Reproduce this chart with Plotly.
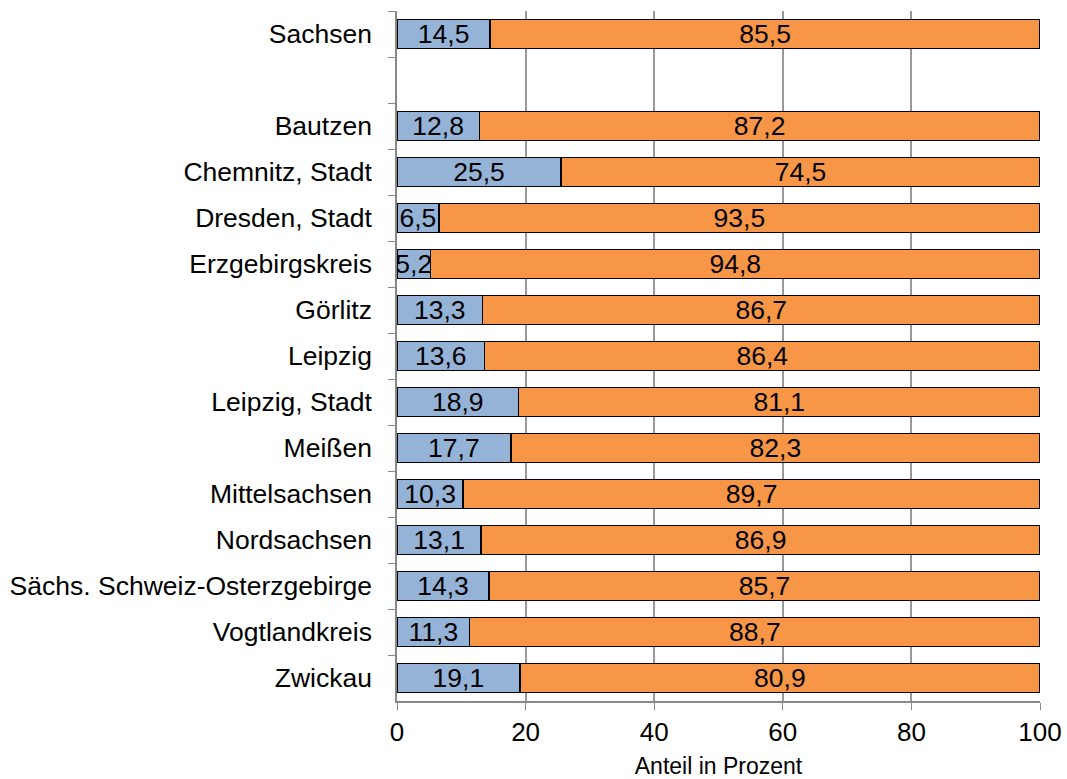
import plotly.graph_objects as go

categories = ["Sachsen", " ", "Bautzen", "Chemnitz, Stadt", "Dresden, Stadt", "Erzgebirgskreis",
              "Görlitz", "Leipzig", "Leipzig, Stadt", "Meißen", "Mittelsachsen", "Nordsachsen",
              "Sächs. Schweiz-Osterzgebirge", "Vogtlandkreis", "Zwickau"]
share_a = [14.5, None, 12.8, 25.5, 6.5, 5.2, 13.3, 13.6, 18.9, 17.7, 10.3, 13.1, 14.3, 11.3, 19.1]
share_b = [85.5, None, 87.2, 74.5, 93.5, 94.8, 86.7, 86.4, 81.1, 82.3, 89.7, 86.9, 85.7, 88.7, 80.9]
x_ticks = [0, 20, 40, 60, 80, 100]

font_family = "Liberation Sans, Arial, sans-serif"

fig = go.Figure()
for vals, color in [(share_a, "#95B3D7"), (share_b, "#F79646")]:
    fig.add_trace(go.Bar(
        y=categories, x=vals, orientation="h",
        marker=dict(color=color, line=dict(color="black", width=1.5)),
        texttemplate="%{x:.1f}", textposition="inside", insidetextanchor="middle",
        constraintext="none", cliponaxis=False,
        textfont=dict(color="black", size=26.5, family=font_family),
        showlegend=False, hoverinfo="skip",
    ))

fig.update_layout(
    barmode="stack", bargap=0.36,
    separators=",.",
    width=1067, height=779,
    margin=dict(l=397, r=27, t=11, b=78, pad=0, autoexpand=False),
    paper_bgcolor="white", plot_bgcolor="white",
    font=dict(family=font_family, color="black"),
)
fig.update_xaxes(
    range=[0, 100], tickvals=x_ticks, ticks="outside", ticklen=7, tickcolor="#888888",
    showgrid=True, gridcolor="#999999", gridwidth=1.5,
    showline=True, linecolor="#888888", linewidth=1.5,
    tickfont=dict(size=26), zeroline=False, ticklabelstandoff=0, automargin=False,
    title=dict(text="Anteil in Prozent", font=dict(size=23), standoff=18),
)
fig.update_yaxes(
    categoryorder="array", categoryarray=categories, autorange="reversed",
    ticks="outside", tickson="boundaries", ticklen=7, tickcolor="#888888",
    showline=True, linecolor="#888888", linewidth=1.5, automargin=False,
    tickfont=dict(size=26.5), showgrid=False, ticklabelstandoff=18,
)

fig.write_html(
    "out.html",
    config={"displayModeBar": False},
    post_script="document.body.style.margin='0';document.body.style.overflow='hidden';",
)
